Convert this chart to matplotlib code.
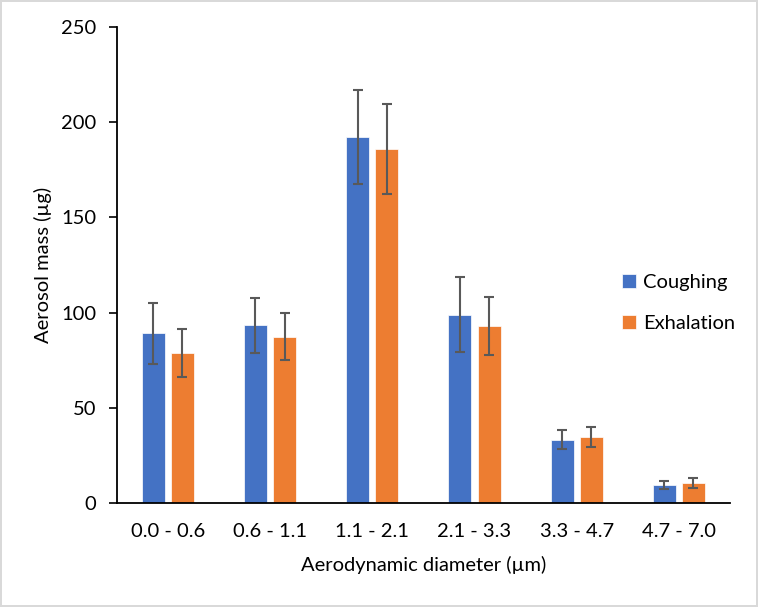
import matplotlib
matplotlib.use("Agg")
import matplotlib.pyplot as plt
import numpy as np

# valori
categories = ["0.0 - 0.6", "0.6 - 1.1", "1.1 - 2.1", "2.1 - 3.3", "3.3 - 4.7", "4.7 - 7.0"]
coughing = [89.2, 93.4, 192.2, 99.0, 33.3, 9.6]
coughing_err = [16.0, 14.4, 24.5, 19.7, 5.0, 1.9]
exhalation = [78.7, 87.5, 185.9, 93.0, 34.7, 10.7]
exhalation_err = [12.6, 12.4, 23.7, 15.1, 5.4, 2.5]

BLUE, ORANGE, ERR = "#4472C4", "#ED7D31", "#595959"

plt.rcParams["font.family"] = ["Lato", "DejaVu Sans"]
FS = 14.5

fig = plt.figure(figsize=(7.58, 6.07), dpi=100)
fig.patch.set_edgecolor("#d9d9d9")
fig.patch.set_linewidth(1.5)
ax = fig.add_axes([0.154, 0.171, 0.809, 0.7845])

x = np.arange(len(categories))
w, off = 0.225, 0.143
err_kw = dict(ecolor=ERR, elinewidth=1.5, capsize=3.4, capthick=1.5)
ax.bar(x - off, coughing, w, yerr=coughing_err, color=BLUE, edgecolor="white",
       linewidth=0.5, label="Coughing", error_kw=err_kw)
ax.bar(x + off, exhalation, w, yerr=exhalation_err, color=ORANGE, edgecolor="white",
       linewidth=0.5, label="Exhalation", error_kw=err_kw)

ax.set_xlim(-0.5, len(categories) - 0.5)
ax.set_ylim(0, 250)
ax.set_yticks(range(0, 251, 50))
ax.set_xticks(x)
ax.set_xticklabels(categories)
ax.tick_params(axis="y", length=5.5, width=1.2, pad=9, labelsize=FS)
ax.tick_params(axis="x", length=0, pad=14, labelsize=FS)
ax.spines[["top", "right"]].set_visible(False)
ax.spines["left"].set_linewidth(1.3)
ax.spines["bottom"].set_linewidth(1.3)
ax.set_ylabel("Aerosol mass (µg)", fontsize=FS, labelpad=7)
ax.set_xlabel("Aerodynamic diameter (µm)", fontsize=FS, labelpad=12)

ax.legend(loc="center left", bbox_to_anchor=(0.794, 0.42), frameon=False, fontsize=FS,
          handlelength=0.7, handleheight=0.7, handletextpad=0.35, labelspacing=1.2)

fig.savefig("out.png", dpi=100)
